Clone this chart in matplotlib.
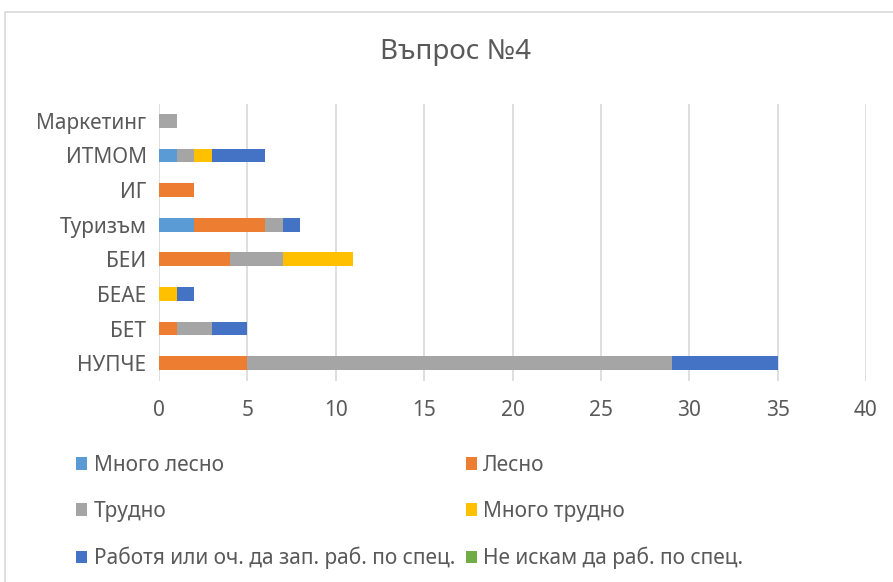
import matplotlib.pyplot as plt
from matplotlib.patches import Rectangle

plt.rcParams['font.family'] = ['Noto Sans', 'DejaVu Sans']

categories = ['НУПЧЕ', 'БЕТ', 'БЕАЕ', 'БЕИ', 'Туризъм', 'ИГ', 'ИТМОМ', 'Маркетинг']
series_names = ['Много лесно', 'Лесно', 'Трудно', 'Много трудно',
                'Работя или оч. да зап. раб. по спец.', 'Не искам да раб. по спец.']
mnogo_lesno = [0, 0, 0, 0, 2, 0, 1, 0]
lesno = [5, 1, 0, 4, 4, 2, 0, 0]
trudno = [24, 2, 0, 3, 1, 0, 1, 1]
mnogo_trudno = [0, 0, 1, 4, 0, 0, 1, 0]
rabotya = [6, 2, 1, 0, 1, 0, 3, 0]
ne_iskam = [0, 0, 0, 0, 0, 0, 0, 0]
x_ticks = [0, 5, 10, 15, 20, 25, 30, 35, 40]

colors = ['#5B9BD5', '#ED7D31', '#A5A5A5', '#FFC000', '#4472C4', '#70AD47']
text_col = '#595959'

fig = plt.figure(figsize=(8.93, 5.82), dpi=100)
ax = fig.add_axes([159/893, 1 - 380.5/582, (866-159)/893, (380.5-103.5)/582])

# chart frame
fig.patches.append(Rectangle((5/893, -0.05), 1.0, 1 - 12/582 + 0.05, transform=fig.transFigure,
                             fill=False, edgecolor='#D9D9D9', linewidth=1.2))

ys = range(len(categories))
left = [0] * len(categories)
for name, vals, c in zip(series_names,
                         [mnogo_lesno, lesno, trudno, mnogo_trudno, rabotya, ne_iskam], colors):
    ax.barh(ys, vals, left=left, height=0.4, color=c, label=name, zorder=3)
    left = [a + b for a, b in zip(left, vals)]

ax.set_xlim(0, 40)
ax.set_ylim(-0.5, len(categories) - 0.5)
ax.set_xticks(x_ticks)
ax.set_yticks(list(ys))
ax.set_yticklabels(categories)
ax.grid(axis='x', color='#D9D9D9', linewidth=1.2, zorder=0)
for s in ax.spines.values():
    s.set_visible(False)
ax.tick_params(length=0, labelsize=15, colors=text_col, pad=9)
ax.tick_params(axis='x', pad=14)

fig.text(456/893, 1 - 52/582, 'Въпрос №4', ha='center', va='center', fontsize=20, color=text_col)

handles, labels = ax.get_legend_handles_labels()
# order for 2-column legend filled row-wise
order = [0, 2, 4, 1, 3, 5]
fig.legend([handles[i] for i in order], [labels[i] for i in order], ncol=2,
           loc='upper left', bbox_to_anchor=(76/893, 1 - 455/582), frameon=False,
           borderpad=0, borderaxespad=0,
           fontsize=15, labelcolor=text_col, handlelength=0.55, handleheight=0.55,
           handletextpad=0.3, columnspacing=0.5, labelspacing=1.2)

fig.savefig('out.png', dpi=100)
